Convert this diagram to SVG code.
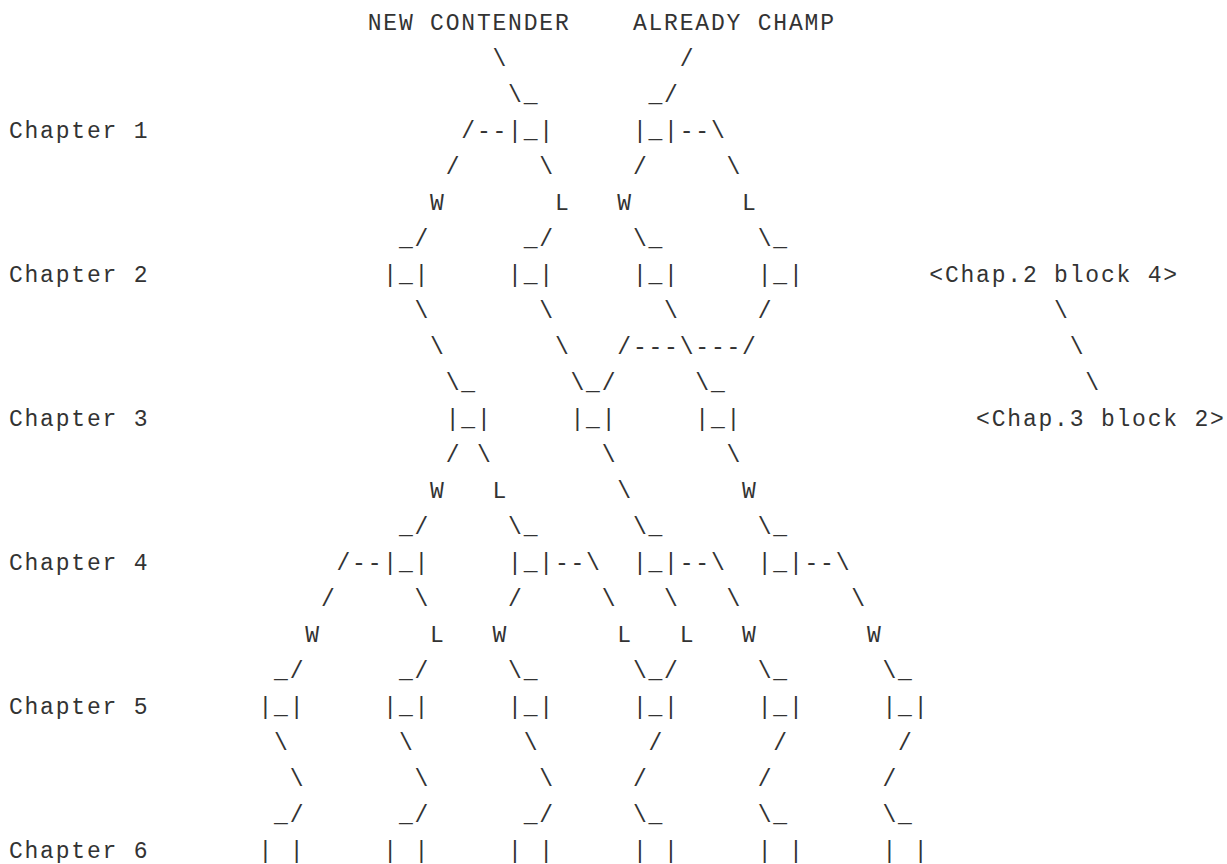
<svg xmlns="http://www.w3.org/2000/svg" width="1227" height="864" viewBox="0 0 1227 864">
<style>
text{font-family:"Liberation Mono","Courier New",monospace;font-size:23px;letter-spacing:1.8px;fill:#333;white-space:pre}
</style>
<rect width="1227" height="864" fill="#fff"/>
<g transform="translate(0.9,0)">
<g id="headers">
<text x="366.8" y="29.5">NEW CONTENDER</text>
<text x="632" y="29.5">ALREADY CHAMP</text>
</g>
<g id="chapter-labels">
<text x="8" y="137.5">Chapter 1</text>
<text x="8" y="281.5">Chapter 2</text>
<text x="8" y="425.5">Chapter 3</text>
<text x="8" y="569.5">Chapter 4</text>
<text x="8" y="713.5">Chapter 5</text>
<text x="8" y="857.5">Chapter 6</text>
</g>
<g id="ref-ch2-b4"><text x="928.4" y="281.5">&lt;Chap.2 block 4&gt;</text></g>
<g id="ref-ch3-b2"><text x="975.2" y="425.5">&lt;Chap.3 block 2&gt;</text></g>
<g id="ch1-b1"><text x="522.8" y="101.5">_</text><text x="507.2" y="137.5">|_|</text></g>
<g id="ch1-b2"><text x="647.6" y="101.5">_</text><text x="632" y="137.5">|_|</text></g>
<g id="ch2-b1"><text x="398" y="245.5">_</text><text x="382.4" y="281.5">|_|</text></g>
<g id="ch2-b2"><text x="522.8" y="245.5">_</text><text x="507.2" y="281.5">|_|</text></g>
<g id="ch2-b3"><text x="647.6" y="245.5">_</text><text x="632" y="281.5">|_|</text></g>
<g id="ch2-b4"><text x="772.4" y="245.5">_</text><text x="756.8" y="281.5">|_|</text></g>
<g id="ch3-b1"><text x="460.4" y="389.5">_</text><text x="444.8" y="425.5">|_|</text></g>
<g id="ch3-b2"><text x="585.2" y="389.5">_</text><text x="569.6" y="425.5">|_|</text></g>
<g id="ch3-b3"><text x="710" y="389.5">_</text><text x="694.4" y="425.5">|_|</text></g>
<g id="ch4-b1"><text x="398" y="533.5">_</text><text x="382.4" y="569.5">|_|</text></g>
<g id="ch4-b2"><text x="522.8" y="533.5">_</text><text x="507.2" y="569.5">|_|</text></g>
<g id="ch4-b3"><text x="647.6" y="533.5">_</text><text x="632" y="569.5">|_|</text></g>
<g id="ch4-b4"><text x="772.4" y="533.5">_</text><text x="756.8" y="569.5">|_|</text></g>
<g id="ch5-b1"><text x="273.2" y="677.5">_</text><text x="257.6" y="713.5">|_|</text></g>
<g id="ch5-b2"><text x="398" y="677.5">_</text><text x="382.4" y="713.5">|_|</text></g>
<g id="ch5-b3"><text x="522.8" y="677.5">_</text><text x="507.2" y="713.5">|_|</text></g>
<g id="ch5-b4"><text x="647.6" y="677.5">_</text><text x="632" y="713.5">|_|</text></g>
<g id="ch5-b5"><text x="772.4" y="677.5">_</text><text x="756.8" y="713.5">|_|</text></g>
<g id="ch5-b6"><text x="897.2" y="677.5">_</text><text x="881.6" y="713.5">|_|</text></g>
<g id="ch6-b1"><text x="273.2" y="821.5">_</text><text x="257.6" y="857.5">| |</text></g>
<g id="ch6-b2"><text x="398" y="821.5">_</text><text x="382.4" y="857.5">| |</text></g>
<g id="ch6-b3"><text x="522.8" y="821.5">_</text><text x="507.2" y="857.5">| |</text></g>
<g id="ch6-b4"><text x="647.6" y="821.5">_</text><text x="632" y="857.5">| |</text></g>
<g id="ch6-b5"><text x="772.4" y="821.5">_</text><text x="756.8" y="857.5">| |</text></g>
<g id="ch6-b6"><text x="897.2" y="821.5">_</text><text x="881.6" y="857.5">| |</text></g>
<g id="connectors">
<text x="491.6" y="65.5">\</text><text x="678.8" y="65.5">/</text>
<text x="507.2" y="101.5">\</text><text x="663.2" y="101.5">/</text>
<text x="460.4" y="137.5">/--</text><text x="678.8" y="137.5">--\</text>
<text x="444.8" y="173.5">/</text><text x="538.4" y="173.5">\</text><text x="632" y="173.5">/</text><text x="725.6" y="173.5">\</text>
<text x="413.6" y="245.5">/</text><text x="538.4" y="245.5">/</text><text x="632" y="245.5">\</text><text x="756.8" y="245.5">\</text>
<text x="413.6" y="317.5">\</text><text x="538.4" y="317.5">\</text><text x="663.2" y="317.5">\</text><text x="756.8" y="317.5">/</text><text x="1053.2" y="317.5">\</text>
<text x="429.2" y="353.5">\</text><text x="554" y="353.5">\</text><text x="616.4" y="353.5">/---\---/</text><text x="1068.8" y="353.5">\</text>
<text x="444.8" y="389.5">\</text><text x="569.6" y="389.5">\</text><text x="600.8" y="389.5">/</text><text x="694.4" y="389.5">\</text><text x="1084.4" y="389.5">\</text>
<text x="444.8" y="461.5">/</text><text x="476" y="461.5">\</text><text x="600.8" y="461.5">\</text><text x="725.6" y="461.5">\</text>
<text x="616.4" y="497.5">\</text>
<text x="413.6" y="533.5">/</text><text x="507.2" y="533.5">\</text><text x="632" y="533.5">\</text><text x="756.8" y="533.5">\</text>
<text x="335.6" y="569.5">/--</text><text x="554" y="569.5">--\</text><text x="678.8" y="569.5">--\</text><text x="803.6" y="569.5">--\</text>
<text x="320" y="605.5">/</text><text x="413.6" y="605.5">\</text><text x="507.2" y="605.5">/</text><text x="600.8" y="605.5">\</text><text x="663.2" y="605.5">\</text><text x="725.6" y="605.5">\</text><text x="850.4" y="605.5">\</text>
<text x="288.8" y="677.5">/</text><text x="413.6" y="677.5">/</text><text x="507.2" y="677.5">\</text><text x="632" y="677.5">\</text><text x="663.2" y="677.5">/</text><text x="756.8" y="677.5">\</text><text x="881.6" y="677.5">\</text>
<text x="273.2" y="749.5">\</text><text x="398" y="749.5">\</text><text x="522.8" y="749.5">\</text><text x="647.6" y="749.5">/</text><text x="772.4" y="749.5">/</text><text x="897.2" y="749.5">/</text>
<text x="288.8" y="785.5">\</text><text x="413.6" y="785.5">\</text><text x="538.4" y="785.5">\</text><text x="632" y="785.5">/</text><text x="756.8" y="785.5">/</text><text x="881.6" y="785.5">/</text>
<text x="288.8" y="821.5">/</text><text x="413.6" y="821.5">/</text><text x="538.4" y="821.5">/</text><text x="632" y="821.5">\</text><text x="756.8" y="821.5">\</text><text x="881.6" y="821.5">\</text>
</g>
<g id="edge-labels">
<text x="429.2" y="209.5">W</text><text x="554" y="209.5">L</text><text x="616.4" y="209.5">W</text><text x="741.2" y="209.5">L</text>
<text x="429.2" y="497.5">W</text><text x="491.6" y="497.5">L</text><text x="741.2" y="497.5">W</text>
<text x="304.4" y="641.5">W</text><text x="429.2" y="641.5">L</text><text x="491.6" y="641.5">W</text><text x="616.4" y="641.5">L</text><text x="678.8" y="641.5">L</text><text x="741.2" y="641.5">W</text><text x="866" y="641.5">W</text>
</g>
</g>
</svg>
